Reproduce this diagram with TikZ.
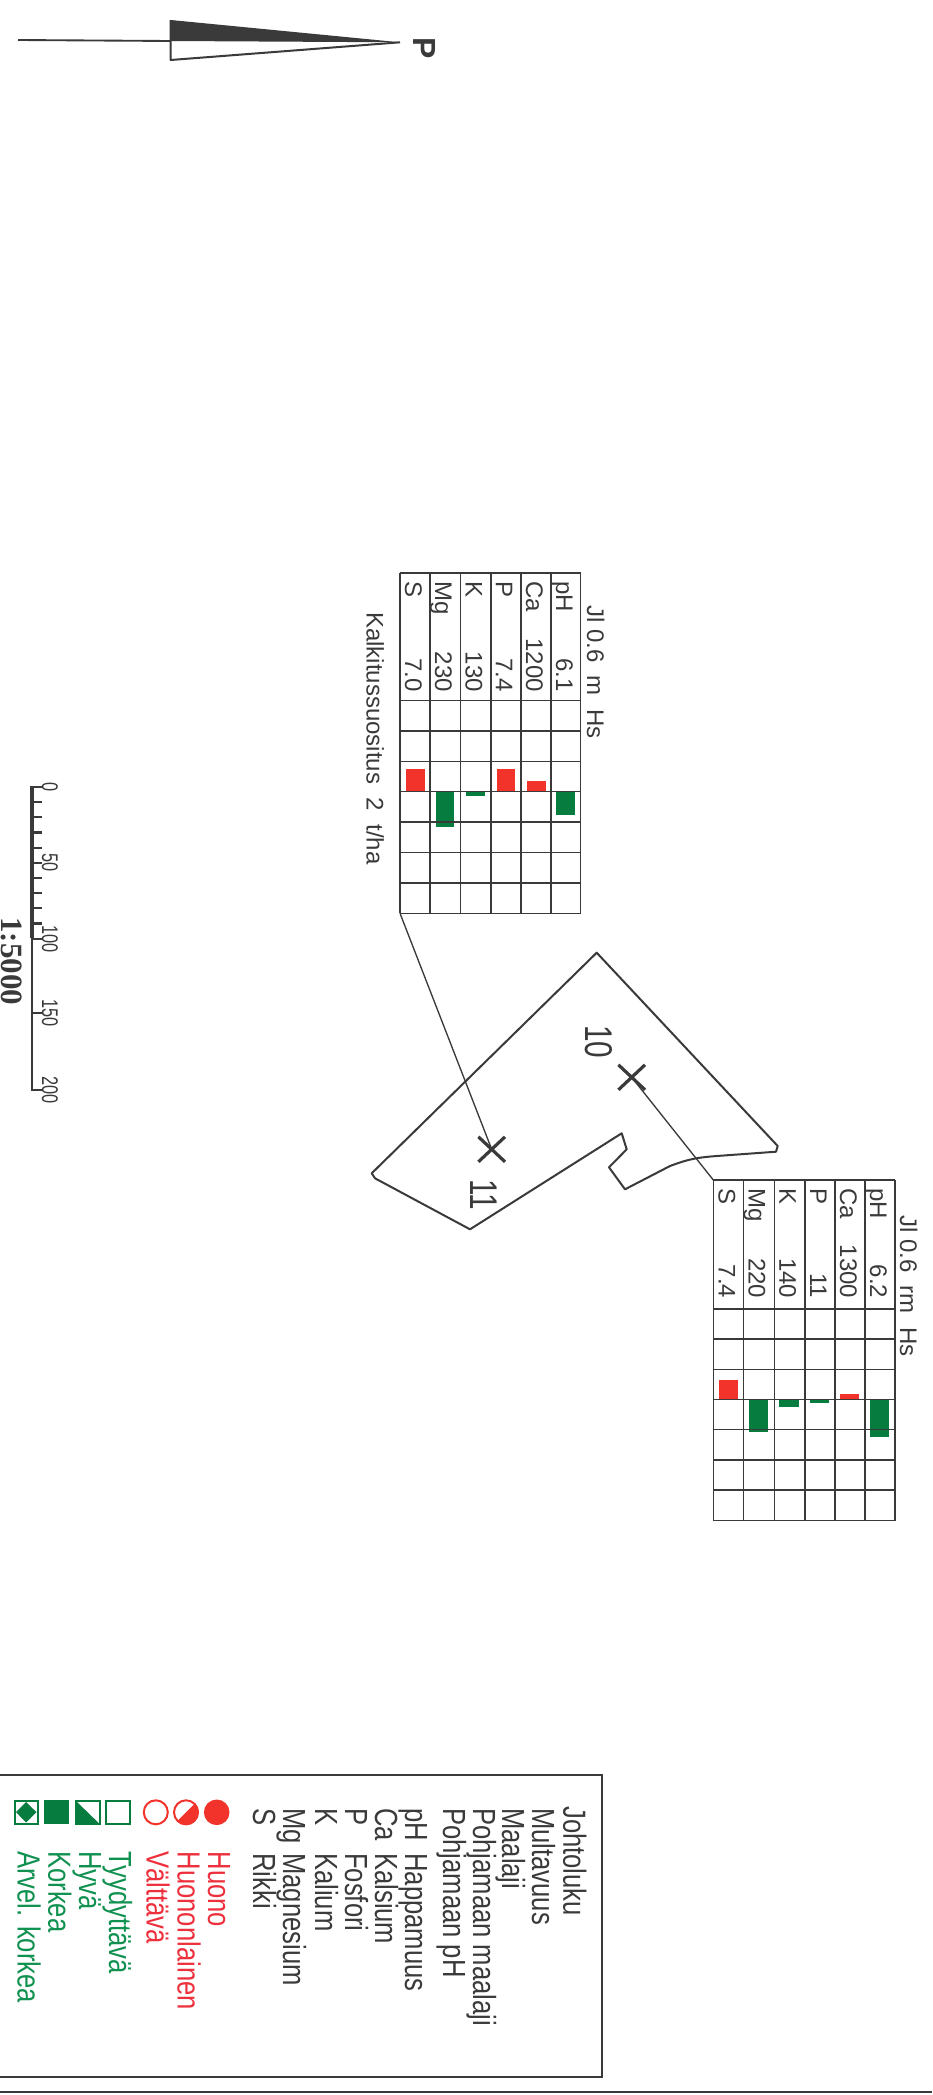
\documentclass[tikz,border=0pt]{standalone}
\usepackage{fontspec}
\usepackage{graphicx}
\setmainfont{Liberation Sans}
\newfontfamily\serifbold[BoldFont={Liberation Serif Bold}]{Liberation Serif}
\definecolor{ink}{HTML}{3A3A3A}
\definecolor{barred}{HTML}{F2332B}
\definecolor{bargreen}{HTML}{067D3E}
\definecolor{txtred}{HTML}{EE2F3C}
\definecolor{txtgreen}{HTML}{109150}
\newcommand{\narrowtxt}[1]{\scalebox{.8}[1]{#1}}
\newcommand{\tallnum}[1]{\scalebox{.77}[1]{#1}}
\newcommand{\thinnum}[1]{\scalebox{.72}[1]{#1}}
\tikzset{
  lab/.style={rotate=-90,inner sep=0pt,text=ink,anchor=base west},
  tabtxt/.style={lab,font=\fontsize{18}{18}\selectfont},
  tabval/.style={tabtxt,anchor=base east},
  legtxt/.style={lab,font=\fontsize{24}{24}\selectfont},
  redtxt/.style={legtxt,text=txtred},
  greentxt/.style={legtxt,text=txtgreen},
  gridline/.style={draw=ink,line width=1.15pt},
  redbar/.style={fill=barred},
  greenbar/.style={fill=bargreen},
  outline/.style={draw=ink,line width=1.5pt,line join=round},
  leader/.style={draw=ink,line width=1pt},
  crossmark/.style={draw=ink,line width=2.4pt},
  gsym/.style={draw=bargreen,line width=1.5pt},
  rsym/.style={draw=barred,line width=1.5pt},
  scaletick/.style={draw=ink,line width=1.6pt},
  scalenum/.style={lab,anchor=base,font=\fontsize{17}{17}\selectfont},
}
\begin{document}
\begin{tikzpicture}[x=0.75pt,y=-0.75pt]
\useasboundingbox (0,0) rectangle (932,2095);
\fill[white] (0,0) rectangle (932,2095);

% north arrow
\coordinate (ntail) at (18,40);
\coordinate (nbase) at (170.7,41);
\coordinate (ntip) at (400,42.3);
\coordinate (ntop) at (170.7,20);
\coordinate (nlow) at (170.7,60);
\draw[outline,line width=1.4pt] (ntail) -- (nbase);
\fill[ink] (ntop) -- (ntip) -- (nbase) -- cycle;
\draw[outline] (ntop) -- (nlow) -- (ntip);
\node[lab,font=\fontsize{24}{24}\selectfont\bfseries] (plabel) at (413.5,37.5) {P};

% table 1 bars
\fill[redbar] (406,769.3) rectangle (425,791.7);
\fill[redbar] (496.7,768.7) rectangle (515.3,791.7);
\fill[redbar] (526.7,781.3) rectangle (545.7,791.7);
\fill[greenbar] (436,791.7) rectangle (454.3,826.7);
\fill[greenbar] (466,791.7) rectangle (484.7,795.7);
\fill[greenbar] (556.3,791.7) rectangle (575,814.7);
% table 1 grid
\foreach \x in {400,430.2,460.6,490.8,521,551,580.7}
  \draw[gridline] (\x,573) -- (\x,913.3);
\draw[gridline] (400,573) -- (580.7,573);
\foreach \y in {700.7,731.2,761.6,791.7,822.2,852.6,882.8,913.3}
  \draw[gridline] (400,\y) -- (580.7,\y);
\node[tabtxt] (t1title) at (587,605) {Jl 0.6\ \ m\ \ Hs};
\node[tabtxt] (t1a) at (405,581) {S};
\node[tabtxt] (t1b) at (435,581) {Mg};
\node[tabtxt] (t1c) at (465.6,581) {K};
\node[tabtxt] (t1d) at (495.8,581) {P};
\node[tabtxt] (t1e) at (526,581) {Ca};
\node[tabtxt] (t1f) at (556,581) {pH};
\node[tabval] (t1va) at (405,692) {7.0};
\node[tabval] (t1vb) at (435,692) {230};
\node[tabval] (t1vc) at (465.6,692) {130};
\node[tabval] (t1vd) at (495.8,692) {7.4};
\node[tabval] (t1ve) at (526,692) {1200};
\node[tabval] (t1vf) at (556,692) {6.1};
\node[tabtxt] (kalk) at (366.7,612) {Kalkitussuositus\ \ 2\ \ t/ha};

% table 2 bars
\fill[redbar] (719.3,1379.7) rectangle (738,1399.3);
\fill[redbar] (840,1394.3) rectangle (859,1399.3);
\fill[greenbar] (749.3,1399.3) rectangle (768,1432.3);
\fill[greenbar] (779.3,1399.3) rectangle (798.7,1406.7);
\fill[greenbar] (810,1399.3) rectangle (828.7,1403);
\fill[greenbar] (870.3,1399.3) rectangle (889,1437);
% table 2 grid
\foreach \x in {713.3,743.6,774.3,805,835,865,895}
  \draw[gridline] (\x,1180) -- (\x,1520.7);
\draw[gridline] (713.3,1180) -- (895,1180);
\foreach \y in {1309,1339,1369.3,1399.3,1429.7,1460,1490,1520.7}
  \draw[gridline] (713.3,\y) -- (895,\y);
\node[tabtxt] (t2title) at (900,1215) {Jl 0.6\ \ rm\ \ Hs};
\node[tabtxt] (t2a) at (718.5,1188) {S};
\node[tabtxt] (t2b) at (748.6,1188) {Mg};
\node[tabtxt] (t2c) at (779.3,1188) {K};
\node[tabtxt] (t2d) at (810,1188) {P};
\node[tabtxt] (t2e) at (840,1188) {Ca};
\node[tabtxt] (t2f) at (870,1188) {pH};
\node[tabval] (t2va) at (718.5,1298.5) {7.4};
\node[tabval] (t2vb) at (748.6,1298.5) {220};
\node[tabval] (t2vc) at (779.3,1298.5) {140};
\node[tabval] (t2vd) at (810,1298.5) {11};
\node[tabval] (t2ve) at (840,1298.5) {1300};
\node[tabval] (t2vf) at (870,1298.5) {6.2};

% parcel outline
\draw[outline] (596.7,952.7) -- (777.7,1146) -- (776,1151.7) -- (716.7,1156)
  .. controls (698,1157.5) and (690,1158.5) .. (670,1166)
  -- (625,1189.3) -- (609,1167.3) -- (626.7,1149.3) -- (621.7,1133.3)
  -- (470,1229.3) -- (375,1178.3) -- (371.7,1173.3) -- cycle;

% sample points and leaders
\coordinate (x10) at (631.7,1077.3);
\coordinate (x11) at (491.7,1149.3);
\coordinate (t1corner) at (400,913.3);
\coordinate (t2corner) at (713.3,1180);
\draw[leader] (t1corner) -- (x11);
\draw[leader] (t2corner) -- (x10);
\draw[crossmark] (618.4,1064.8) -- (645,1089.8) (645,1064.8) -- (618.4,1089.8);
\draw[crossmark] (478.4,1136.8) -- (505,1161.8) (505,1136.8) -- (478.4,1161.8);
\node[lab,font=\fontsize{29}{29}\selectfont] (p10) at (585,1025) {\tallnum{10}};
\node[lab,font=\fontsize{29}{29}\selectfont] (p11) at (470.7,1179) {\tallnum{11}};

% scale bar
\draw[ink,line width=2.6pt,line cap=butt] (32,785.8) -- (32,938.3);
\draw[ink,line width=2.1pt,line cap=butt] (32,938.3) -- (32,1091);
\foreach \y in {787,802.2,817.3,832.5,847.7,862.8,878,893.2,908.3,923.5,938.7,1013.3,1090}
  \draw[scaletick] (32,\y) -- (42,\y);
\node[scalenum] (s0) at (42,787) {\thinnum{0}};
\node[scalenum] (s50) at (42,862.8) {\thinnum{50}};
\node[scalenum] (s100) at (42,938.7) {\thinnum{100}};
\node[scalenum] (s150) at (42,1013.3) {\thinnum{150}};
\node[scalenum] (s200) at (42,1090) {\thinnum{200}};
\node[lab,font=\fontsize{23.25}{24}\selectfont\serifbold\bfseries] (ratio) at (2,917) {1:5000};

% legend frame
\draw[draw=ink,line width=1.4pt] (0,1775) -- (601.7,1775) -- (601.7,2076.7) -- (0,2076.7);
\draw[draw=ink,line width=1.4pt] (0,2091.7) -- (932,2091.7);

% legend text
\node[legtxt] (l1) at (563.3,1806) {\narrowtxt{Johtoluku}};
\node[legtxt] (l2) at (532,1808) {\narrowtxt{Multavuus}};
\node[legtxt] (l3) at (502,1808) {\narrowtxt{Maalaji}};
\node[legtxt] (l4) at (473,1808) {\narrowtxt{Pohjamaan maalaji}};
\node[legtxt] (l5) at (443,1808) {\narrowtxt{Pohjamaan pH}};
\node[legtxt] (l6a) at (405,1808) {\narrowtxt{pH}};
\node[legtxt] (l6b) at (405,1853) {\narrowtxt{Happamuus}};
\node[legtxt] (l7a) at (375,1808) {\narrowtxt{Ca}};
\node[legtxt] (l7b) at (375,1853) {\narrowtxt{Kalsium}};
\node[legtxt] (l8a) at (345,1808) {\narrowtxt{P}};
\node[legtxt] (l8b) at (345,1853) {\narrowtxt{Fosfori}};
\node[legtxt] (l9a) at (315,1808) {\narrowtxt{K}};
\node[legtxt] (l9b) at (315,1853) {\narrowtxt{Kalium}};
\node[legtxt] (l10a) at (283,1808) {\narrowtxt{Mg}};
\node[legtxt] (l10b) at (283,1853) {\narrowtxt{Magnesium}};
\node[legtxt] (l11a) at (253,1808) {\narrowtxt{S}};
\node[legtxt] (l11b) at (253,1853) {\narrowtxt{Rikki}};
\node[redtxt] (r1) at (208,1851.5) {\narrowtxt{Huono}};
\node[redtxt] (r2) at (177.7,1851.5) {\narrowtxt{Huononlainen}};
\node[redtxt] (r3) at (146.7,1851) {\narrowtxt{Välttävä}};
\node[greentxt] (g1) at (109,1851) {\narrowtxt{Tyydyttävä}};
\node[greentxt] (g2) at (79,1851) {\narrowtxt{Hyvä}};
\node[greentxt] (g3) at (48.3,1851) {\narrowtxt{Korkea}};
\node[greentxt] (g4) at (17.7,1851) {\narrowtxt{Arvel. korkea}};

% legend symbols: circles
\fill[barred] (216.7,1812.3) circle (12.8);
\fill[barred] (186,1812.3) ++(135:12.8) arc (135:-45:12.8) -- cycle;
\draw[rsym] (186,1812.3) circle (12);
\draw[rsym] (155.8,1812.3) circle (12);
% legend symbols: squares
\draw[gsym] (105.8,1800.5) rectangle (129.5,1824);
\fill[bargreen] (75,1800) -- (75,1824.3) -- (100,1824.3) -- cycle;
\draw[gsym] (75.5,1800.5) rectangle (99.5,1824);
\fill[bargreen] (44.3,1800) rectangle (69.3,1824.3);
\draw[gsym] (14.5,1800.5) rectangle (38,1824);
\fill[bargreen] (26.2,1802) -- (36.5,1812.2) -- (26.2,1822.5) -- (16,1812.2) -- cycle;
\end{tikzpicture}
\end{document}
